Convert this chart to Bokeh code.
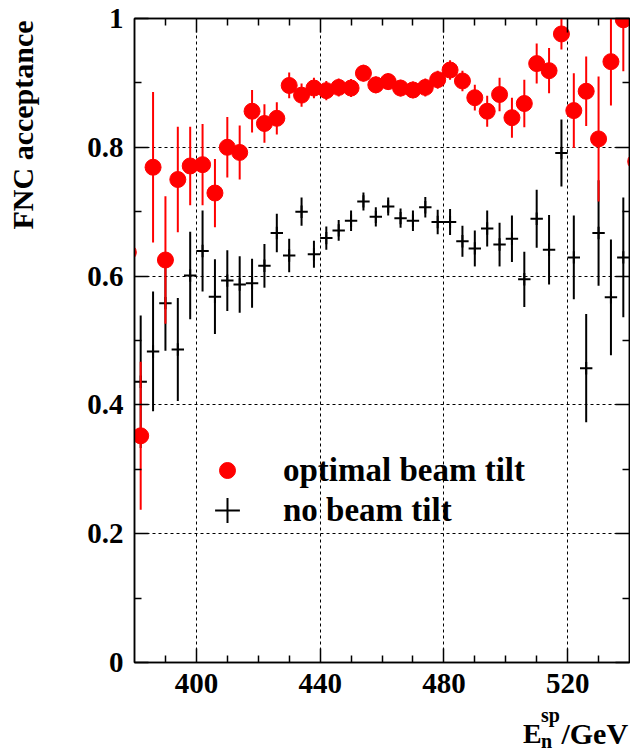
import numpy as np
from bokeh.plotting import figure
from bokeh.models import (Range1d, FixedTicker, LinearAxis, Label, Legend,
                          LegendItem, ColumnDataSource)
from bokeh.embed import file_html
from bokeh.resources import INLINE

# ---------------- data ----------------
# FNC acceptance vs spectator-neutron energy, optimal beam tilt (red)
energy_tilt = [378, 382, 386, 390, 394, 398, 402, 406, 410, 414, 418, 422,
               426, 430, 434, 438, 442, 446, 450, 454, 458, 462, 466, 470,
               474, 478, 482, 486, 490, 494, 498, 502, 506, 510, 514, 518,
               522, 526, 530, 534, 538, 542]
acc_tilt = [0.637, 0.352, 0.769, 0.625, 0.750, 0.771, 0.773, 0.729, 0.800,
            0.792, 0.856, 0.837, 0.845, 0.896, 0.881, 0.892, 0.888, 0.893,
            0.892, 0.915, 0.897, 0.902, 0.892, 0.889, 0.893, 0.905, 0.920,
            0.903, 0.877, 0.856, 0.882, 0.846, 0.868, 0.930, 0.919, 0.976,
            0.857, 0.887, 0.813, 0.933, 0.998, 0.778]
err_tilt = [0.100, 0.115, 0.117, 0.099, 0.082, 0.061, 0.063, 0.053, 0.047,
            0.042, 0.033, 0.030, 0.025, 0.020, 0.018, 0.016, 0.015, 0.014,
            0.014, 0.013, 0.013, 0.013, 0.013, 0.013, 0.014, 0.014, 0.015,
            0.016, 0.020, 0.024, 0.026, 0.031, 0.037, 0.031, 0.035, 0.024,
            0.058, 0.054, 0.097, 0.068, 0.080, 0.100]

# no beam tilt (black)
energy_notilt = [382, 386, 390, 394, 398, 402, 406, 410, 414, 418, 422, 426,
                 430, 434, 438, 442, 446, 450, 454, 458, 462, 466, 470, 474,
                 478, 482, 486, 490, 494, 498, 502, 506, 510, 514, 518, 522,
                 526, 530, 534, 538]
acc_notilt = [0.436, 0.483, 0.558, 0.486, 0.601, 0.639, 0.568, 0.593, 0.587,
              0.589, 0.616, 0.667, 0.632, 0.700, 0.634, 0.659, 0.671, 0.686,
              0.716, 0.692, 0.708, 0.690, 0.686, 0.707, 0.684, 0.684, 0.654,
              0.643, 0.674, 0.649, 0.658, 0.595, 0.689, 0.641, 0.791, 0.629,
              0.457, 0.667, 0.567, 0.629]
err_notilt = [0.103, 0.093, 0.074, 0.080, 0.068, 0.063, 0.058, 0.047, 0.044,
              0.038, 0.034, 0.030, 0.026, 0.022, 0.021, 0.018, 0.016, 0.016,
              0.014, 0.015, 0.014, 0.015, 0.016, 0.016, 0.019, 0.020, 0.024,
              0.028, 0.028, 0.034, 0.036, 0.043, 0.045, 0.054, 0.052, 0.065,
              0.084, 0.082, 0.090, 0.093]

x_major = [400, 440, 480, 520]
x_major_labels = ["400", "440", "480", "520"]
x_minor = [390, 410, 420, 430, 450, 460, 470, 490, 500, 510, 530]
y_major = [0, 0.2, 0.4, 0.6, 0.8, 1.0]
y_major_labels = ["0", "0.2", "0.4", "0.6", "0.8", "1"]
y_minor = [0.1, 0.3, 0.5, 0.7, 0.9]

series_labels = ["optimal beam tilt", "no beam tilt"]
y_title = "FNC acceptance"
x_title_parts = ["E", "sp", "n", "/GeV"]   # E_n^sp / GeV

# ---------------- figure ----------------
FONT = "Liberation Serif"

p = figure(width=630, height=756, x_range=Range1d(380, 540),
           y_range=Range1d(0, 1), output_backend="svg",
           toolbar_location=None, min_border_left=134, min_border_right=1,
           min_border_top=18, min_border_bottom=94)
p.background_fill_color = "white"
p.border_fill_color = "white"
p.outline_line_color = "black"
p.outline_line_width = 1.5

xt = FixedTicker(ticks=x_major, minor_ticks=x_minor)
yt = FixedTicker(ticks=y_major, minor_ticks=y_minor)


def style_axis(ax, ticker, tick_values, tick_labels, show_labels):
    ax.ticker = ticker
    ax.axis_line_color = "black"
    ax.axis_line_width = 1.5
    ax.major_tick_in = 14
    ax.major_tick_out = 0
    ax.minor_tick_in = 7
    ax.minor_tick_out = 0
    ax.major_tick_line_color = "black"
    ax.minor_tick_line_color = "black"
    ax.major_tick_line_width = 1.5
    ax.minor_tick_line_width = 1.5
    if show_labels:
        ax.major_label_text_font = FONT
        ax.major_label_text_font_style = "bold"
        ax.major_label_text_font_size = "29px"
        ax.major_label_text_color = "black"
        ax.major_label_standoff = 11
        ax.major_label_overrides = dict(zip(tick_values, tick_labels))
    else:
        # mirrored frame ticks only (ROOT style), no labels
        ax.major_label_overrides = {v: "" for v in tick_values}
        ax.major_label_text_font_size = "0px"
        ax.major_label_standoff = 0


style_axis(p.xaxis[0], xt, x_major, x_major_labels, True)
style_axis(p.yaxis[0], yt, y_major, y_major_labels, True)

top_ax = LinearAxis()
style_axis(top_ax, xt, x_major, x_major_labels, False)
p.add_layout(top_ax, "above")
right_ax = LinearAxis()
style_axis(right_ax, yt, y_major, y_major_labels, False)
p.add_layout(right_ax, "right")

for g, t in ((p.xgrid[0], xt), (p.ygrid[0], yt)):
    g.ticker = t
    g.grid_line_color = "black"
    g.grid_line_dash = "3 3"
    g.grid_line_width = 1

# ---------------- data glyphs ----------------
e_t = np.array(energy_tilt, dtype=float)
a_t = np.array(acc_tilt)
s_t = np.array(err_tilt)
e_n = np.array(energy_notilt, dtype=float)
a_n = np.array(acc_notilt)
s_n = np.array(err_notilt)

src_n = ColumnDataSource(dict(x=e_n, y=a_n, lo=a_n - s_n, hi=a_n + s_n))
src_t = ColumnDataSource(dict(x=e_t, y=a_t, lo=a_t - s_t, hi=a_t + s_t))

# black: vertical error bars + cross for bin width (+-2 GeV)
p.segment(x0="x", y0="lo", x1="x", y1="hi", source=src_n,
          line_color="black", line_width=2)
r_black = p.scatter(x="x", y="y", source=src_n, marker="cross", size=12.4,
                    line_color="black", line_width=2)

# red: vertical error bars + filled circles
p.segment(x0="x", y0="lo", x1="x", y1="hi", source=src_t,
          line_color="#ff0000", line_width=2)
r_red = p.scatter(x="x", y="y", source=src_t, marker="circle", size=16,
                  fill_color="#ff0000", line_color="#ff0000")

# ---------------- legends ----------------
def make_legend(label, renderer, glyph, loc, standoff):
    lg = Legend(items=[LegendItem(label=label, renderers=[renderer])],
                location=loc, glyph_width=glyph, glyph_height=glyph,
                label_standoff=standoff, padding=0, margin=0, spacing=0,
                border_line_alpha=0, background_fill_alpha=0,
                label_text_font=FONT, label_text_font_style="bold",
                label_text_font_size="33px", label_text_color="black")
    p.add_layout(lg)


make_legend(series_labels[0], r_red, 40, (73, 172), 36)
make_legend(series_labels[1], r_black, 62, (62, 121), 25)

# ---------------- axis titles (side panels, so they are not clipped) ----
def title_label(txt, xx, yy, fs, angle=0.0, align="left"):
    return Label(x=xx, y=yy, text=txt, angle=angle, text_align=align,
                 text_baseline="alphabetic", text_font=FONT,
                 text_font_style="bold", text_font_size=fs,
                 text_color="black")


p.add_layout(title_label(y_title, 343.8, 0.997, "30px", np.pi / 2, "right"),
             "left")
p.add_layout(title_label(x_title_parts[0], 505.6, -0.111, "28px"), "left")
p.add_layout(title_label(x_title_parts[1], 511.4, -0.0815, "20px"), "left")
p.add_layout(title_label(x_title_parts[2], 511.4, -0.1225, "20px"), "left")
p.add_layout(title_label(x_title_parts[3], 518.0, -0.111, "30px"), "below")

open("out.html", "w").write(file_html(p, INLINE))
